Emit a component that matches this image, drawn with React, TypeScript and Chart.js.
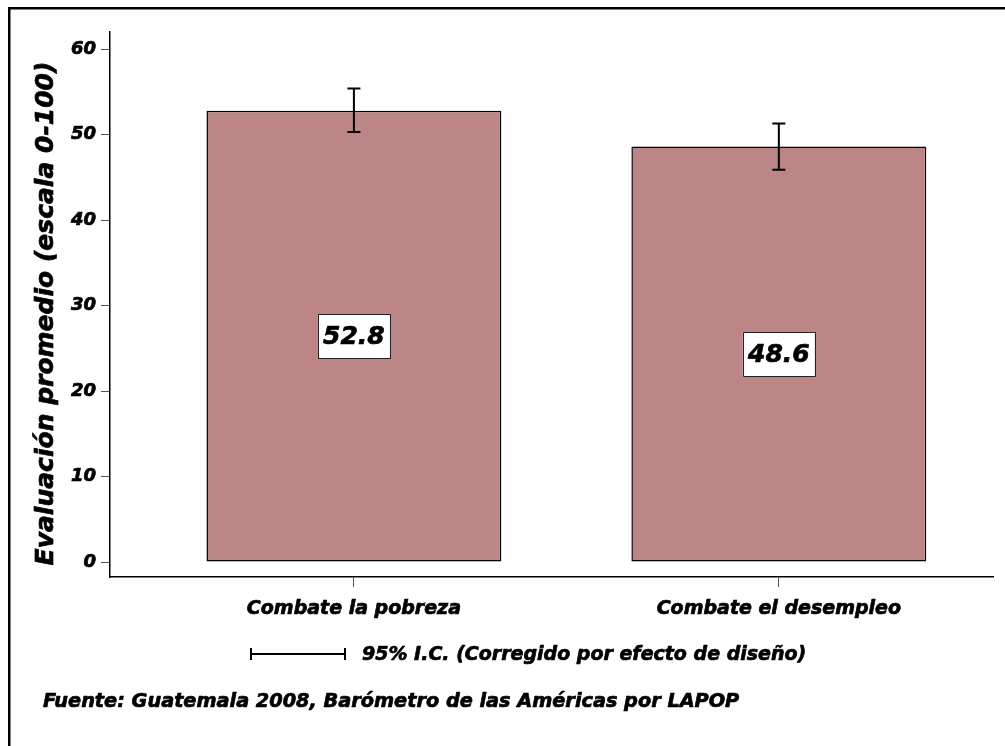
import React, { useEffect, useRef } from "react";
import { Chart, registerables } from "chart.js";

Chart.register(...registerables);

const categories = ["Combate la pobreza", "Combate el desempleo"];
const means = [52.8, 48.6];
const lowerCI = [50.3, 45.9];
const upperCI = [55.4, 51.3];
const yTicks = [0, 10, 20, 30, 40, 50, 60];
const yTitle = "Evaluación promedio (escala 0-100)";
const legendText = "95% I.C. (Corregido por efecto de diseño)";
const sourceText = "Fuente: Guatemala 2008, Barómetro de las Américas por LAPOP";

const FONT = "'DejaVu Sans', sans-serif";
const BAR_COLOR = "#BC8586";
const HEAVY = 0.7;

function heavyText(ctx: any, text: string, x: number, y: number) {
  ctx.lineWidth = HEAVY;
  ctx.strokeStyle = "#000";
  ctx.lineJoin = "round";
  ctx.fillText(text, x, y);
  ctx.strokeText(text, x, y);
}

const decorPlugin = {
  id: "decor",
  afterDatasetsDraw(chart: any) {
    const ctx = chart.ctx;
    const xs = chart.scales.x;
    const ys = chart.scales.y;
    ctx.save();
    means.forEach((m, i) => {
      const px = xs.getPixelForValue(i);
      const yl = ys.getPixelForValue(lowerCI[i]);
      const yu = ys.getPixelForValue(upperCI[i]);
      ctx.strokeStyle = "#000";
      ctx.lineWidth = 2;
      ctx.beginPath();
      ctx.moveTo(px, yl);
      ctx.lineTo(px, yu);
      ctx.moveTo(px - 6.5, yl);
      ctx.lineTo(px + 6.5, yl);
      ctx.moveTo(px - 6.5, yu);
      ctx.lineTo(px + 6.5, yu);
      ctx.stroke();

      const cy = ys.getPixelForValue(m / 2);
      ctx.fillStyle = "#fff";
      ctx.fillRect(px - 36, cy - 22, 72, 44);
      ctx.lineWidth = 1;
      ctx.strokeStyle = "#222";
      ctx.strokeRect(Math.round(px - 36) + 0.5, Math.round(cy - 22) + 0.5, 72, 44);
      ctx.fillStyle = "#000";
      ctx.font = `italic bold 25px ${FONT}`;
      ctx.textAlign = "center";
      ctx.textBaseline = "middle";
      heavyText(ctx, m.toFixed(1), px, cy + 1);
    });
    ctx.restore();
  },
  afterDraw(chart: any) {
    const ctx = chart.ctx;
    ctx.save();
    // frame (top and left)
    ctx.fillStyle = "#000";
    ctx.fillRect(8, 7, 997, 2.5);
    ctx.fillRect(8, 7, 2.5, 739);

    // y axis title
    ctx.save();
    ctx.translate(53, 313.5);
    ctx.rotate(-Math.PI / 2);
    ctx.font = `italic bold 25px ${FONT}`;
    ctx.textAlign = "center";
    ctx.textBaseline = "alphabetic";
    ctx.fillStyle = "#000";
    heavyText(ctx, yTitle, 0, 0);
    ctx.restore();

    // legend
    ctx.strokeStyle = "#000";
    ctx.lineWidth = 2;
    ctx.beginPath();
    ctx.moveTo(250, 654);
    ctx.lineTo(345, 654);
    ctx.moveTo(251, 648);
    ctx.lineTo(251, 660);
    ctx.moveTo(345, 648);
    ctx.lineTo(345, 660);
    ctx.stroke();
    ctx.fillStyle = "#000";
    ctx.font = `italic bold 19px ${FONT}`;
    ctx.textAlign = "left";
    ctx.textBaseline = "alphabetic";
    heavyText(ctx, legendText, 362, 660);

    // source
    ctx.font = `italic bold 19.3px ${FONT}`;
    heavyText(ctx, sourceText, 43, 707);
    ctx.restore();
  },
};

export default function App() {
  const ref = useRef<HTMLCanvasElement | null>(null);

  useEffect(() => {
    if (!ref.current) return;
    const tickFont = { family: FONT, size: 18, style: "italic" as const, weight: "bold" as const };
    const chart = new Chart(ref.current, {
      type: "bar",
      data: {
        datasets: [
          {
            data: means.map((m, i) => ({ x: i, y: m })) as any,
            backgroundColor: BAR_COLOR,
            borderColor: "#000",
            borderWidth: 1.5,
            borderSkipped: false,
            categoryPercentage: 1,
            barPercentage: 0.694,
          },
        ],
      },
      options: {
        responsive: false,
        animation: false,
        events: [],
        layout: { padding: { top: 32, right: 12, left: 0, bottom: 0 } },
        plugins: { legend: { display: false }, tooltip: { enabled: false } },
        scales: {
          x: {
            type: "linear",
            min: -0.574,
            max: 1.504,
            offset: false,
            afterBuildTicks: (s: any) => {
              s.ticks = categories.map((_, i) => ({ value: i }));
            },
            afterFit: (s: any) => {
              s.height = 169;
            },
            grid: { offset: false, drawOnChartArea: false, drawTicks: true, tickLength: 10, color: "#555", lineWidth: 1 },
            border: { display: true, color: "#000", width: 1.5 },
            ticks: {
              callback: (v: any) => categories[v] ?? "",
              font: { ...tickFont, size: 19 },
              color: "#000",
              textStrokeColor: "#000",
              textStrokeWidth: HEAVY,
              padding: 11,
              maxRotation: 0,
              autoSkip: false,
            },
          },
          y: {
            type: "linear",
            min: -1.75,
            max: 62,
            afterBuildTicks: (s: any) => {
              s.ticks = yTicks.map((v) => ({ value: v }));
            },
            afterFit: (s: any) => {
              s.width = 110;
            },
            grid: { drawOnChartArea: false, drawTicks: true, tickLength: 9, color: "#555", lineWidth: 1 },
            border: { display: true, color: "#000", width: 1.5 },
            ticks: { font: tickFont, color: "#000", textStrokeColor: "#000", textStrokeWidth: HEAVY, padding: 5 },
          },
        },
      },
      plugins: [decorPlugin],
    });
    return () => chart.destroy();
  }, []);

  return (
    <div style={{ position: "absolute", left: 0, top: 0, width: 1005, height: 746, background: "#fff" }}>
      <canvas ref={ref} width={1005} height={746} style={{ display: "block" }} />
    </div>
  );
}
